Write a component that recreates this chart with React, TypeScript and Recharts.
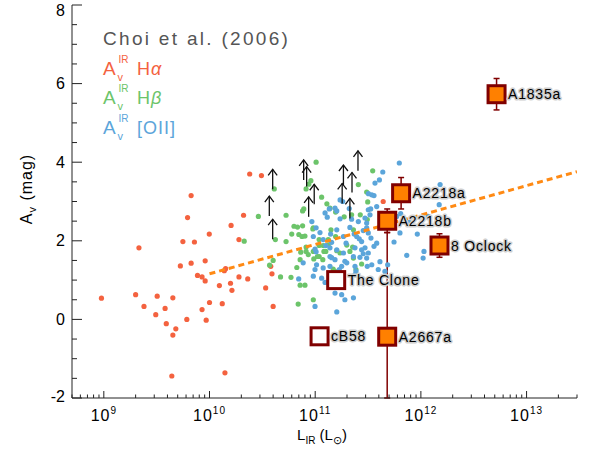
import React from "react";
import { ScatterChart, Scatter, XAxis, YAxis, ErrorBar } from "recharts";

type Pair = [number, number];

// [L_IR (L_sun), A_V (mag)]
const halphaAv: Pair[] = [
  [6.7e9, 3.15], [6.2e9, 2.59], [9.95e9, 2.17], [2.15e9, 1.82], [5.6e9, 1.98], [7.2e9, 1.97],
  [9.1e9, 1.49], [6.7e9, 1.43], [5.3e9, 1.36], [7.7e9, 1.12], [8.5e9, 1.08], [9.1e9, 0.98],
  [9.5e8, 0.54], [2.0e9, 0.63], [3.2e9, 0.59], [4.5e9, 0.55], [2.4e9, 0.33], [3.8e9, 0.28],
  [1.0e10, 0.43], [8.5e9, 0.25], [3.1e9, 0.12], [6.1e9, 0.0], [9.3e9, -0.02], [3.9e9, -0.11],
  [4.8e9, -0.24], [4.5e9, -0.4], [4.4e9, -1.44], [1.4e10, -1.36], [2.4e10, 3.7], [3.1e10, 3.66],
  [2.1e10, 2.65], [1.6e10, 2.39], [1.9e10, 2.03], [1.42e10, 1.29], [1.38e10, 1.24], [1.9e10, 1.08],
  [2.3e10, 1.03], [1.24e10, 0.86], [1.58e10, 0.92], [1.63e10, 0.74], [1.32e10, 0.4], [3.8e10, 1.35],
  [3.9e10, 1.16], [3.4e10, 0.8], [4.0e10, 0.33], [4.4e11, 3.0],
];

const hbetaAv: Pair[] = [
  [1.02e11, 4.0], [3.5e11, 3.78], [4.1e10, 3.32], [8.2e10, 3.32], [8.7e10, 3.44], [1.15e11, 3.11],
  [3.07e11, 3.24], [3.14e11, 2.99], [1.29e11, 2.94], [7.8e10, 2.81], [7.6e10, 2.76], [2.9e10, 2.62],
  [5.3e10, 2.65], [6.3e10, 2.37], [6.8e10, 2.35], [7.6e10, 2.38], [4.2e10, 2.03], [6.0e10, 2.17],
  [7.0e10, 2.16], [8.0e10, 2.12], [2.13e10, 1.99], [5.3e10, 1.98], [8.2e10, 1.73], [4.0e10, 1.5],
  [3.7e10, 1.38], [7.2e10, 1.52], [6.7e10, 1.32], [4.7e10, 1.08], [5.9e10, 1.07], [8.6e10, 1.65],
  [9.7e10, 1.54], [1.09e11, 1.6], [1.18e11, 1.52], [1.26e11, 1.73], [1.6e11, 1.75], [7.2e10, 0.87],
  [6.9e10, 0.39], [9.6e10, 0.5], [9.1e10, 3.53], [2.56e11, 3.43], [1.38e11, 2.83], [1.56e11, 2.73],
  [2.21e11, 2.66], [1.88e11, 2.61], [2.67e11, 2.66], [9.5e10, 2.3], [1.41e11, 2.28], [1.56e11, 2.11],
  [2.3e11, 2.28], [1.09e11, 2.03], [1.33e11, 2.03], [7.5e10, 2.11], [1.99e11, 1.89], [2.26e11, 1.84],
  [9.6e10, 1.73], [1.21e11, 1.73], [9.6e10, 2.33], [1.09e11, 1.88], [1.33e11, 1.9], [1.19e11, 1.88],
  [8.2e10, 1.84], [7.3e10, 1.71], [1.05e11, 1.6], [1.72e11, 1.69], [2.13e11, 1.73], [2.3e11, 1.56],
  [2.75e11, 1.41], [1.48e11, 1.28], [1.54e11, 1.22], [8.0e10, 0.87], [2.43e11, 1.27], [3.11e11, 2.54],
];

const oiiAv: Pair[] = [
  [6.25e11, 3.98], [4.36e11, 3.75], [3.68e11, 3.47], [4.05e11, 3.55], [3.19e11, 3.2], [3.43e11, 3.17],
  [3.6e11, 3.15], [3.18e11, 2.79], [3.35e11, 2.81], [3.3e11, 2.66], [3.82e11, 2.87], [1.72e11, 3.04],
  [1.82e11, 3.0], [1.54e11, 2.83], [2.1e11, 2.82], [1.3e11, 2.6], [1.24e11, 2.71], [1.72e11, 2.56],
  [2.21e11, 2.55], [2.56e11, 2.49], [2.96e11, 2.58], [3.07e11, 2.45], [1.02e11, 2.33], [1.11e11, 2.21],
  [1.4e11, 2.17], [1.6e11, 2.28], [1.85e11, 2.11], [2.13e11, 2.34], [2.34e11, 2.17], [2.47e11, 2.11],
  [2.85e11, 2.26], [3.07e11, 2.33], [3.18e11, 2.2], [3.37e11, 2.07], [3.82e11, 1.94], [2.61e11, 2.05],
  [2.75e11, 1.98], [2.38e11, 1.82], [2.96e11, 1.82], [3.18e11, 1.69], [3.6e11, 1.86], [1.96e11, 1.94],
  [1.43e11, 1.96], [1.19e11, 2.03], [1.26e11, 1.88], [1.38e11, 1.82], [1.6e11, 1.77], [1.85e11, 1.69],
  [9.6e10, 2.11], [5.57e11, 1.97], [9.3e10, 2.49], [7.35e11, 1.63], [6.34e11, 2.2], [4.1e11, 1.47],
  [3.95e11, 1.27], [2.75e11, 1.77], [2.85e11, 1.67], [2.65e11, 1.58], [3.07e11, 1.56], [3.43e11, 1.39],
  [2.3e11, 1.6], [1.91e11, 1.48], [1.54e11, 1.52], [1.38e11, 1.35], [1.78e11, 1.35], [2.38e11, 1.35],
  [2.38e11, 1.14], [9.6e10, 1.1], [9.96e10, 1.27], [1.03e11, 1.39], [7.7e10, 1.44], [1.78e11, 0.63],
  [2.3e11, 0.55], [1.91e11, 0.5], [1.54e11, 0.67], [9.96e10, 0.33], [1.07e12, 1.73], [4.85e11, 1.39],
  [1.99e11, 1.44], [3.11e11, 1.35], [1.69e11, 1.27], [1.78e11, 1.18], [2.43e11, 1.22], [1.15e11, 1.05],
  [1.6e11, 0.19], [1.19e11, 1.31], [1.52e12, 3.43], [1.49e12, 2.92], [5.9e11, 2.62], [6.44e11, 2.69],
  [7.76e11, 2.47], [1.17e12, 2.62], [9.25e11, 2.17], [1.05e12, 1.56], [4.57e11, 1.22], [1.02e11, 1.72],
  [1.38e11, 1.6], [1.43e11, 1.57], [6.98e10, 1.03], [1.24e11, 0.94], [1.36e11, 2.81], [1.6e11, 2.76],
  [9.96e10, 1.79],
];

// lower limits, arrow drawn upward from each point
const lowerLimits: Pair[] = [
  [3.96e10, 3.31], [3.68e10, 2.63], [3.96e10, 2.04], [7.78e10, 3.55], [8.3e10, 3.38], [9.79e10, 2.93],
  [8.67e10, 2.61], [1.85e11, 3.42], [2.23e11, 3.23], [2.54e11, 3.78], [1.8e11, 2.95], [2.13e11, 2.57],
];

const fitLine: Pair[] = [[1e10, 1.16], [3e13, 3.76]];

const lensNames = ["A1835a", "A2218a", "A2218b", "8 Oclock", "A2667a", "The Clone", "cB58"];
const lensL = [5.2e12, 6.5e11, 4.8e11, 1.5e12, 4.8e11, 1.58e11, 1.1e11];
const lensAv = [5.73, 3.21, 2.51, 1.88, -0.44, 1.0, -0.43];
// [minus, plus]; A2667a's lower bar runs off the bottom of the plot
const lensErr: Pair[] = [[0.4, 0.4], [0.4, 0.4], [0.3, 0.3], [0.3, 0.3], [1.56, 2.65], [0, 0], [0, 0]];
const lensOpen = [false, false, false, false, false, true, true];

const yTicks = [-2, -1.5, -1, -0.5, 0, 0.5, 1, 1.5, 2, 2.5, 3, 3.5, 4, 4.5, 5, 5.5, 6, 6.5, 7, 7.5, 8];

const X_MIN = 5e8;
const X_MAX = 3e13;
const xTicks: number[] = [];
for (let e = 8; e <= 13; e++) {
  for (let m = 1; m <= 9; m++) {
    const v = m * Math.pow(10, e);
    if (v >= X_MIN && v <= X_MAX) xTicks.push(v);
  }
}

const RED = "#f4623f";
const GREEN = "#6cc46a";
const BLUE = "#5ba5da";
const ORANGE = "#ff8a14";
const AXIS = "#222";
const FONT = "'Liberation Sans', Arial, sans-serif";

const toPts = (rows: Pair[]) => rows.map(([x, y]) => ({ x, y }));

const isDecade = (v: number) => Math.abs(Math.log10(v) - Math.round(Math.log10(v))) < 1e-9;

const BottomTick = ({ x, y, payload }: any) => {
  const v = payload.value as number;
  const major = isDecade(v);
  return (
    <g>
      <line x1={x} y1={y} x2={x} y2={y - (major ? 7 : 3.5)} stroke={AXIS} />
      {major && (
        <text x={x} y={y + 23} textAnchor="middle" fontSize={16} letterSpacing={1} fontFamily={FONT} fill="#000">
          10<tspan dy={-7} fontSize={10}>{Math.round(Math.log10(v))}</tspan>
        </text>
      )}
    </g>
  );
};

const TopTick = ({ x, y, payload }: any) => {
  const major = isDecade(payload.value);
  return <line x1={x} y1={y} x2={x} y2={y + (major ? 7 : 3.5)} stroke={AXIS} />;
};

const LeftTick = ({ x, y, payload }: any) => {
  const v = payload.value as number;
  const major = v % 2 === 0;
  const shift = v === 8 ? 5 : v === -2 ? -2 : 0;
  return (
    <g>
      <line x1={x} y1={y} x2={x + (major ? 10 : 5)} y2={y} stroke={AXIS} />
      {major && (
        <text x={x - 7} y={y + shift} dy="0.35em" textAnchor="end" fontSize={16} fontFamily={FONT} fill="#000">
          {v}
        </text>
      )}
    </g>
  );
};

const RightTick = ({ x, y, payload }: any) => {
  const major = payload.value % 2 === 0;
  return <line x1={x} y1={y} x2={x - (major ? 10 : 5)} y2={y} stroke={AXIS} />;
};

const dot = (color: string) => (p: any) => <circle cx={p.cx} cy={p.cy} r={2.6} fill={color} />;

const Arrow = ({ cx, cy }: any) => (
  <g stroke="#111" fill="none" strokeWidth={1.3}>
    <line x1={cx} y1={cy} x2={cx} y2={cy - 20} />
    <polyline points={`${cx - 4.5},${cy - 14} ${cx},${cy - 20} ${cx + 4.5},${cy - 14}`} />
  </g>
);

const LensSquare = ({ cx, cy, payload }: any) => (
  <g>
    <rect
      x={cx - 8.5}
      y={cy - 8.5}
      width={17}
      height={17}
      fill={payload.open ? "#fff" : "#ff8000"}
      stroke="#800000"
      strokeWidth={3}
    />
    <text
      x={cx + 11.5}
      y={cy}
      dy="0.36em"
      fontSize={14}
      letterSpacing={0.8}
      fontFamily={FONT}
      fill="#000"
      stroke="#cfcfcf"
      strokeWidth={3}
      strokeLinejoin="round"
      paintOrder="stroke"
    >
      {payload.name}
    </text>
  </g>
);

const LegendRow = ({ y, color, children }: { y: number; color: string; children: React.ReactNode }) => (
  <g fill={color} fontFamily={FONT}>
    <text x={103} y={y} fontSize={19}>A</text>
    <text x={117.5} y={y + 6} fontSize={11}>v</text>
    <text x={118.5} y={y - 12} fontSize={10}>IR</text>
    <text x={137} y={y} fontSize={18} letterSpacing={1}>{children}</text>
  </g>
);

export default function App() {
  const lensRows = lensNames.map((name, i) => ({
    name,
    x: lensL[i],
    y: lensAv[i],
    err: lensErr[i],
    open: lensOpen[i],
  }));

  return (
    <div style={{ position: "absolute", left: 0, top: 0, width: 589, height: 454, background: "#fff" }}>
      <ScatterChart width={589} height={454} margin={{ top: 5, right: 12, bottom: 0, left: 0 }}>
        <XAxis
          type="number"
          dataKey="x"
          scale="log"
          domain={[X_MIN, X_MAX]}
          allowDataOverflow
          ticks={xTicks}
          interval={0}
          tickSize={0}
          tickMargin={0}
          tick={BottomTick}
          height={56}
          stroke={AXIS}
        />
        <XAxis
          xAxisId="top"
          orientation="top"
          type="number"
          dataKey="x"
          scale="log"
          domain={[X_MIN, X_MAX]}
          allowDataOverflow
          ticks={xTicks}
          interval={0}
          tickSize={0}
          tickMargin={0}
          tick={TopTick}
          height={0}
          stroke={AXIS}
        />
        <YAxis
          type="number"
          dataKey="y"
          domain={[-2, 8]}
          allowDataOverflow
          ticks={yTicks}
          interval={0}
          tickSize={0}
          tickMargin={0}
          tick={LeftTick}
          width={72}
          stroke={AXIS}
        />
        <YAxis
          yAxisId="right"
          orientation="right"
          type="number"
          dataKey="y"
          domain={[-2, 8]}
          allowDataOverflow
          ticks={yTicks}
          interval={0}
          tickSize={0}
          tickMargin={0}
          tick={RightTick}
          width={0}
          stroke={AXIS}
        />

        <Scatter data={toPts(halphaAv)} shape={dot(RED)} isAnimationActive={false} />
        <Scatter data={toPts(hbetaAv)} shape={dot(GREEN)} isAnimationActive={false} />
        <Scatter data={toPts(oiiAv)} shape={dot(BLUE)} isAnimationActive={false} />
        <Scatter data={toPts(lowerLimits)} shape={Arrow} isAnimationActive={false} />
        <Scatter
          data={toPts(fitLine)}
          line={{ stroke: ORANGE, strokeWidth: 3, strokeDasharray: "6 4" }}
          shape={() => <g />}
          isAnimationActive={false}
        />
        <Scatter data={lensRows.filter((r) => !r.open)} shape={LensSquare} isAnimationActive={false}>
          <ErrorBar dataKey="err" direction="y" width={3} stroke="#800000" strokeWidth={1.5} />
        </Scatter>
        <Scatter data={lensRows.filter((r) => r.open)} shape={LensSquare} isAnimationActive={false} />
      </ScatterChart>

      <svg
        width={589}
        height={454}
        style={{ position: "absolute", left: 0, top: 0, pointerEvents: "none" }}
        fontFamily={FONT}
      >
        <text x={103} y={45} fontSize={19} fill="#555" letterSpacing={2.3}>
          Choi et al. (2006)
        </text>
        <LegendRow y={75} color={RED}>
          H<tspan fontStyle="italic">α</tspan>
        </LegendRow>
        <LegendRow y={104} color={GREEN}>
          H<tspan fontStyle="italic">β</tspan>
        </LegendRow>
        <LegendRow y={134} color={BLUE}>
          [OII]
        </LegendRow>

        <text transform="translate(32,189) rotate(-90)" textAnchor="middle" fontSize={16} letterSpacing={1} fill="#000">
          A<tspan dy={4} fontSize={11}>v</tspan>
          <tspan dy={-4}> (mag)</tspan>
        </text>
        <text x={322} y={440} textAnchor="middle" fontSize={15} fill="#000">
          L<tspan dy={4} fontSize={10}>IR</tspan>
          <tspan dy={-4}>  (L</tspan>
          <tspan dy={4} fontSize={11}>⊙</tspan>
          <tspan dy={-4}>)</tspan>
        </text>
      </svg>
    </div>
  );
}
